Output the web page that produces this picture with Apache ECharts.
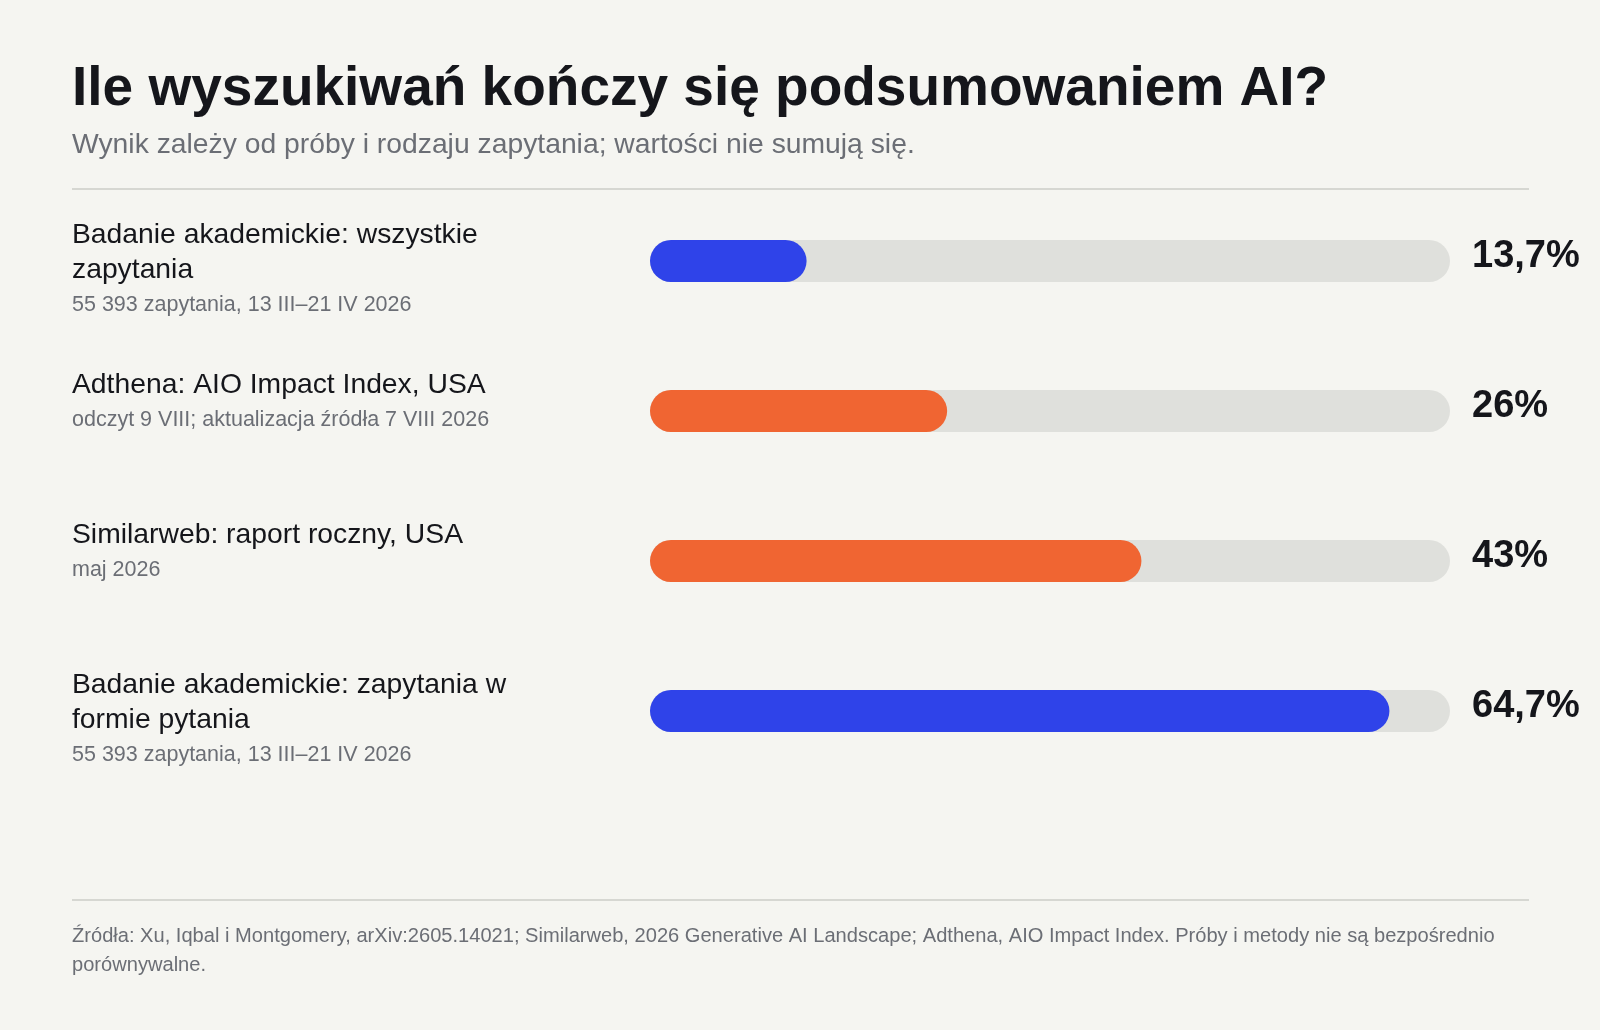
<!DOCTYPE html>
<html lang="pl">
<head>
<meta charset="utf-8">
<title>Ile wyszukiwań kończy się podsumowaniem AI?</title>
<script src="https://cdn.jsdelivr.net/npm/echarts@6/dist/echarts.min.js"></script>
<style>
  html, body { margin: 0; padding: 0; background: #f5f5f1; }
  #chart { width: 1600px; height: 1030px; }
</style>
</head>
<body>
<div id="chart"></div>
<script>
// dane z wykresu
const categories = [
  'Badanie akademickie: wszystkie zapytania',
  'Adthena: AIO Impact Index, USA',
  'Similarweb: raport roczny, USA',
  'Badanie akademickie: zapytania w formie pytania'
];
const notes = [
  '55 393 zapytania, 13 III–21 IV 2026',
  'odczyt 9 VIII; aktualizacja źródła 7 VIII 2026',
  'maj 2026',
  '55 393 zapytania, 13 III–21 IV 2026'
];
const values = [13.7, 26, 43, 64.7];
const sourceType = ['akademickie', 'branżowe', 'branżowe', 'akademickie'];
const axisMax = 70;

const title = 'Ile wyszukiwań kończy się podsumowaniem AI?';
const subtitle = 'Wynik zależy od próby i rodzaju zapytania; wartości nie sumują się.';
const footer = 'Źródła: Xu, Iqbal i Montgomery, arXiv:2605.14021; Similarweb, 2026 Generative AI Landscape; Adthena, AIO Impact Index. Próby i metody nie są bezpośrednio porównywalne.';

const colors = { akademickie: '#2f43e9', 'branżowe': '#f06532' };
const font = '"Liberation Sans", Arial, Helvetica, sans-serif';
const ink = '#15161b';
const grey = '#6b6e75';

const fmt = v => String(v).replace('.', ',') + '%';

// proste lamanie tekstu po slowach
const measureCtx = document.createElement('canvas').getContext('2d');
function wrap(text, size, maxWidth) {
  measureCtx.font = size + 'px ' + font;
  const words = text.split(' ');
  const lines = [];
  let line = '';
  words.forEach(w => {
    const test = line ? line + ' ' + w : w;
    if (line && measureCtx.measureText(test).width > maxWidth) {
      lines.push(line);
      line = w;
    } else {
      line = test;
    }
  });
  if (line) lines.push(line);
  return lines;
}

const chart = echarts.init(document.getElementById('chart'));

const option = {
  backgroundColor: '#f5f5f1',
  animation: false,
  textStyle: { fontFamily: font },
  title: [
    {
      text: title, left: 72, top: 62, padding: 0,
      textStyle: { fontSize: 55, fontWeight: 'bold', color: ink, fontFamily: font }
    },
    {
      text: subtitle, left: 72, top: 131, padding: 0,
      textStyle: { fontSize: 28.3, fontWeight: 'normal', color: grey, fontFamily: font }
    }
  ],
  grid: [
    // slupki
    { left: 650, right: 150, top: 186, height: 600 },
    // opisy po lewej
    { left: 72, width: 520, top: 143, height: 600 }
  ],
  xAxis: [
    { gridIndex: 0, type: 'value', min: 0, max: axisMax, show: false },
    { gridIndex: 1, type: 'value', min: 0, max: 1, show: false }
  ],
  yAxis: [
    {
      gridIndex: 0, type: 'category', inverse: true, data: categories,
      axisLine: { show: false }, axisTick: { show: false }, axisLabel: { show: false }
    },
    {
      gridIndex: 0, type: 'category', inverse: true, position: 'right',
      data: values.map(fmt),
      axisLine: { show: false }, axisTick: { show: false },
      axisLabel: {
        margin: 22, interval: 0, verticalAlign: 'bottom', lineHeight: 8,
        fontSize: 38, fontWeight: 'bold', color: ink, fontFamily: font
      }
    },
    {
      gridIndex: 1, type: 'category', inverse: true, data: categories,
      axisLine: { show: false }, axisTick: { show: false },
      axisLabel: {
        inside: true, margin: 0, interval: 0, verticalAlign: 'top',
        formatter: (val, i) =>
          wrap(val, 28.3, 470).map(l => '{t|' + l + '}').join('\n') + '\n{s|' + notes[i] + '}',
        rich: {
          t: { fontSize: 28.3, lineHeight: 35, color: ink, fontFamily: font },
          s: { fontSize: 21.5, lineHeight: 35, color: grey, fontFamily: font }
        }
      }
    }
  ],
  series: [
    {
      type: 'bar',
      xAxisIndex: 0, yAxisIndex: 0,
      barWidth: 42,
      showBackground: true,
      backgroundStyle: { color: '#dfe0dc', borderRadius: 21 },
      data: values.map((v, i) => ({
        value: v,
        itemStyle: { color: colors[sourceType[i]], borderRadius: 21 }
      }))
    }
  ],
  graphic: [
    {
      type: 'line', silent: true,
      shape: { x1: 72, y1: 189, x2: 1529, y2: 189 },
      style: { stroke: '#cbccc7', lineWidth: 1.5 }
    },
    {
      type: 'line', silent: true,
      shape: { x1: 72, y1: 900, x2: 1529, y2: 900 },
      style: { stroke: '#cbccc7', lineWidth: 1.5 }
    },
    {
      type: 'text', silent: true, x: 72, y: 922,
      style: {
        text: wrap(footer, 20.1, 1456).join('\n'),
        fontSize: 20.1, lineHeight: 29, fontFamily: font, fill: grey
      }
    }
  ]
};

chart.setOption(option);
</script>
</body>
</html>
